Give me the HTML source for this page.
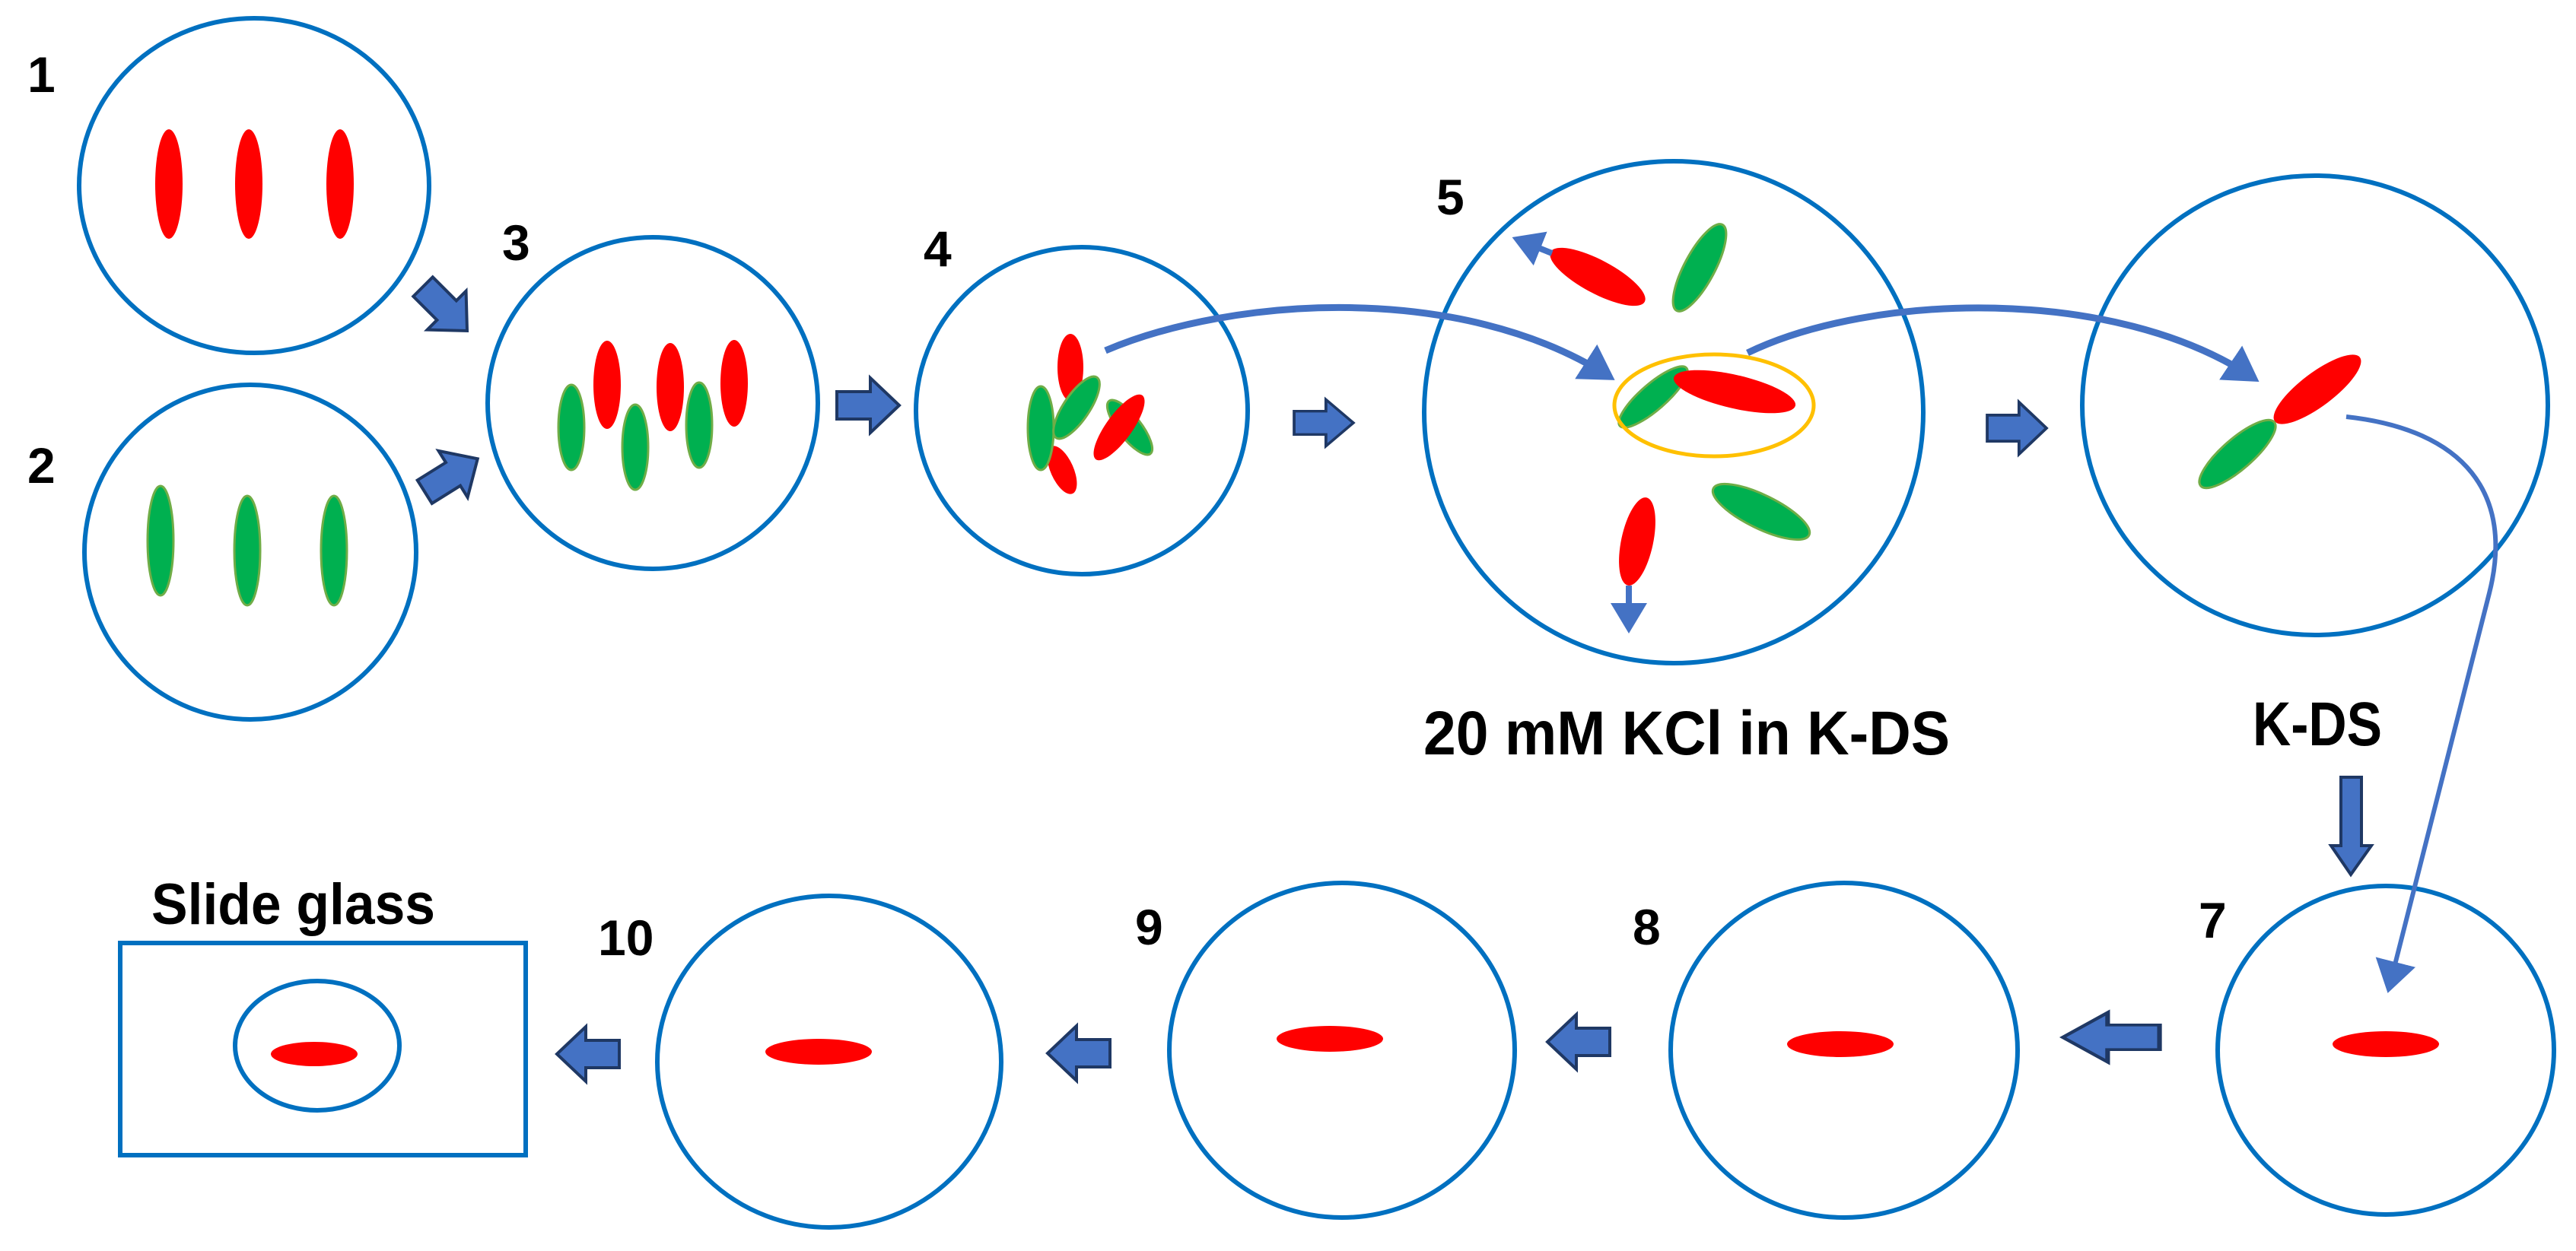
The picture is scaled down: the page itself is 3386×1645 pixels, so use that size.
<!DOCTYPE html>
<html><head><meta charset="utf-8"><style>
html,body{margin:0;padding:0;background:#fff;}
svg{display:block;}
text{font-family:"Liberation Sans",sans-serif;fill:#000;}
</style></head><body>
<svg width="3386" height="1645" viewBox="0 0 3386 1645" xmlns="http://www.w3.org/2000/svg">
<defs>
<marker id="ah" markerWidth="6" markerHeight="6" refX="4" refY="3" orient="auto" markerUnits="strokeWidth">
<path d="M0,0 L5,3 L0,6 Z" fill="#4472C4"/>
</marker>
<marker id="ah2" markerWidth="9" markerHeight="9" refX="6" refY="4.5" orient="auto" markerUnits="strokeWidth">
<path d="M0,0 L7,4.5 L0,9 Z" fill="#4472C4"/>
</marker>
<path id="ba" d="M-41,-18 H3 V-36 L41,0 L3,36 V18 H-41 Z" fill="#4472C4" stroke="#1F3864" stroke-width="4"/>
</defs>
<g fill="none" stroke="#0070C0" stroke-width="6">
<ellipse cx="334" cy="244" rx="230" ry="220"/>
<ellipse cx="329" cy="726" rx="218" ry="220"/>
<ellipse cx="858" cy="530" rx="217" ry="218"/>
<ellipse cx="1422" cy="540" rx="218" ry="215"/>
<ellipse cx="2200" cy="542" rx="328" ry="330"/>
<ellipse cx="3043" cy="533" rx="306" ry="302"/>
<ellipse cx="3136" cy="1381" rx="221" ry="216"/>
<ellipse cx="2424" cy="1381" rx="228" ry="220"/>
<ellipse cx="1764" cy="1381" rx="227" ry="220"/>
<ellipse cx="1090" cy="1396" rx="226" ry="218"/>
<ellipse cx="417" cy="1375" rx="108" ry="85"/>
<rect x="158" y="1240" width="533" height="279"/>
</g>
<g fill="#FF0000">
<ellipse cx="222" cy="242" rx="18" ry="72"/>
<ellipse cx="327" cy="242" rx="18" ry="72"/>
<ellipse cx="447" cy="242" rx="18" ry="72"/>
</g>
<g fill="#00B050" stroke="#70AD47" stroke-width="3">
<ellipse cx="211" cy="711" rx="17" ry="72"/>
<ellipse cx="325" cy="724" rx="17" ry="72"/>
<ellipse cx="439" cy="724" rx="17" ry="72"/>
</g>
<g fill="#FF0000">
<ellipse cx="798" cy="506" rx="18" ry="58"/>
<ellipse cx="881" cy="509" rx="18" ry="58"/>
<ellipse cx="965" cy="504" rx="18" ry="57"/>
</g>
<g fill="#00B050" stroke="#70AD47" stroke-width="3">
<ellipse cx="751" cy="562" rx="17" ry="56"/>
<ellipse cx="835" cy="588" rx="17" ry="56"/>
<ellipse cx="919" cy="559" rx="17" ry="56"/>
</g>
<ellipse cx="1407" cy="483" rx="17" ry="44" fill="#FF0000"/>
<ellipse cx="1396" cy="618" rx="15" ry="34" fill="#FF0000" transform="rotate(-24 1396 618)"/>
<ellipse cx="1368" cy="563" rx="17" ry="55" fill="#00B050" stroke="#70AD47" stroke-width="3"/>
<ellipse cx="1485" cy="562" rx="44" ry="15" fill="#00B050" stroke="#70AD47" stroke-width="3" transform="rotate(52 1485 562)"/>
<ellipse cx="1415" cy="536" rx="48" ry="17" fill="#00B050" stroke="#70AD47" stroke-width="3" transform="rotate(-56 1415 536)"/>
<ellipse cx="1471" cy="562" rx="52" ry="17" fill="#FF0000" transform="rotate(-54 1471 562)"/>
<ellipse cx="2100" cy="364" rx="70" ry="22" fill="#FF0000" transform="rotate(28 2100 364)"/>
<ellipse cx="2234" cy="352" rx="64" ry="20" fill="#00B050" stroke="#70AD47" stroke-width="3" transform="rotate(-62 2234 352)"/>
<ellipse cx="2173" cy="522" rx="58" ry="17" fill="#00B050" stroke="#70AD47" stroke-width="3" transform="rotate(-41 2173 522)"/>
<ellipse cx="2280" cy="515" rx="82" ry="22" fill="#FF0000" transform="rotate(13 2280 515)"/>
<ellipse cx="2253" cy="533" rx="131" ry="67" fill="none" stroke="#FFC000" stroke-width="5"/>
<ellipse cx="2315" cy="673" rx="70" ry="22" fill="#00B050" stroke="#70AD47" stroke-width="3" transform="rotate(26 2315 673)"/>
<ellipse cx="2152" cy="712" rx="21" ry="59" fill="#FF0000" transform="rotate(12 2152 712)"/>
<line x1="2040" y1="333" x2="1995" y2="315" stroke="#4472C4" stroke-width="8" marker-end="url(#ah)"/>
<line x1="2141" y1="770" x2="2141" y2="825" stroke="#4472C4" stroke-width="8" marker-end="url(#ah)"/>
<ellipse cx="3046" cy="512" rx="70" ry="22" fill="#FF0000" transform="rotate(-37 3046 512)"/>
<ellipse cx="2941" cy="597" rx="64" ry="20" fill="#00B050" stroke="#70AD47" stroke-width="3" transform="rotate(-41 2941 597)"/>
<g fill="#FF0000">
<ellipse cx="3136" cy="1373" rx="70" ry="17"/>
<ellipse cx="2419" cy="1373" rx="70" ry="17"/>
<ellipse cx="1748" cy="1366" rx="70" ry="17"/>
<ellipse cx="1076" cy="1383" rx="70" ry="17"/>
<ellipse cx="413" cy="1386" rx="57" ry="16"/>
</g>
<g fill="none" stroke="#4472C4" stroke-width="9">
<path d="M1453,461 C1620,390 1920,370 2115,495" marker-end="url(#ah)"/>
<path d="M2297,464 C2460,385 2780,375 2962,497" marker-end="url(#ah)"/>
<path d="M3084,548 C3240,565 3305,650 3272,780 L3140,1300" stroke-width="6" marker-end="url(#ah2)"/>
</g>
<use href="#ba" transform="translate(585,406) rotate(45)"/>
<use href="#ba" transform="translate(593,625) rotate(-32)"/>
<use href="#ba" transform="translate(1141,533)"/>
<use href="#ba" transform="translate(1740,556) scale(0.95,0.85)"/>
<use href="#ba" transform="translate(2651,563) scale(0.95,0.95)"/>
<use href="#ba" transform="translate(2775,1364) rotate(180) scale(1.55,0.9)"/>
<use href="#ba" transform="translate(2075,1370) rotate(180)"/>
<use href="#ba" transform="translate(1418,1385) rotate(180)"/>
<use href="#ba" transform="translate(773,1386) rotate(180)"/>
<path d="M3077,1022 H3104 V1112 H3117 L3090,1150 L3064,1112 H3077 Z" fill="#4472C4" stroke="#1F3864" stroke-width="4"/>
<g font-size="66" font-weight="bold">
<text x="36" y="121">1</text>
<text x="36" y="635">2</text>
<text x="660" y="342">3</text>
<text x="1214" y="350">4</text>
<text x="1888" y="282">5</text>
<text x="2890" y="1233">7</text>
<text x="2146" y="1242">8</text>
<text x="1492" y="1242">9</text>
<text x="786" y="1256">10</text>
</g>
<g font-weight="bold">
<text x="1871" y="992" font-size="82" textLength="692" lengthAdjust="spacingAndGlyphs">20 mM KCl in K-DS</text>
<text x="2961" y="980" font-size="82" textLength="170" lengthAdjust="spacingAndGlyphs">K-DS</text>
<text x="199" y="1215" font-size="76" textLength="373" lengthAdjust="spacingAndGlyphs">Slide glass</text>
</g>
</svg>
</body></html>
